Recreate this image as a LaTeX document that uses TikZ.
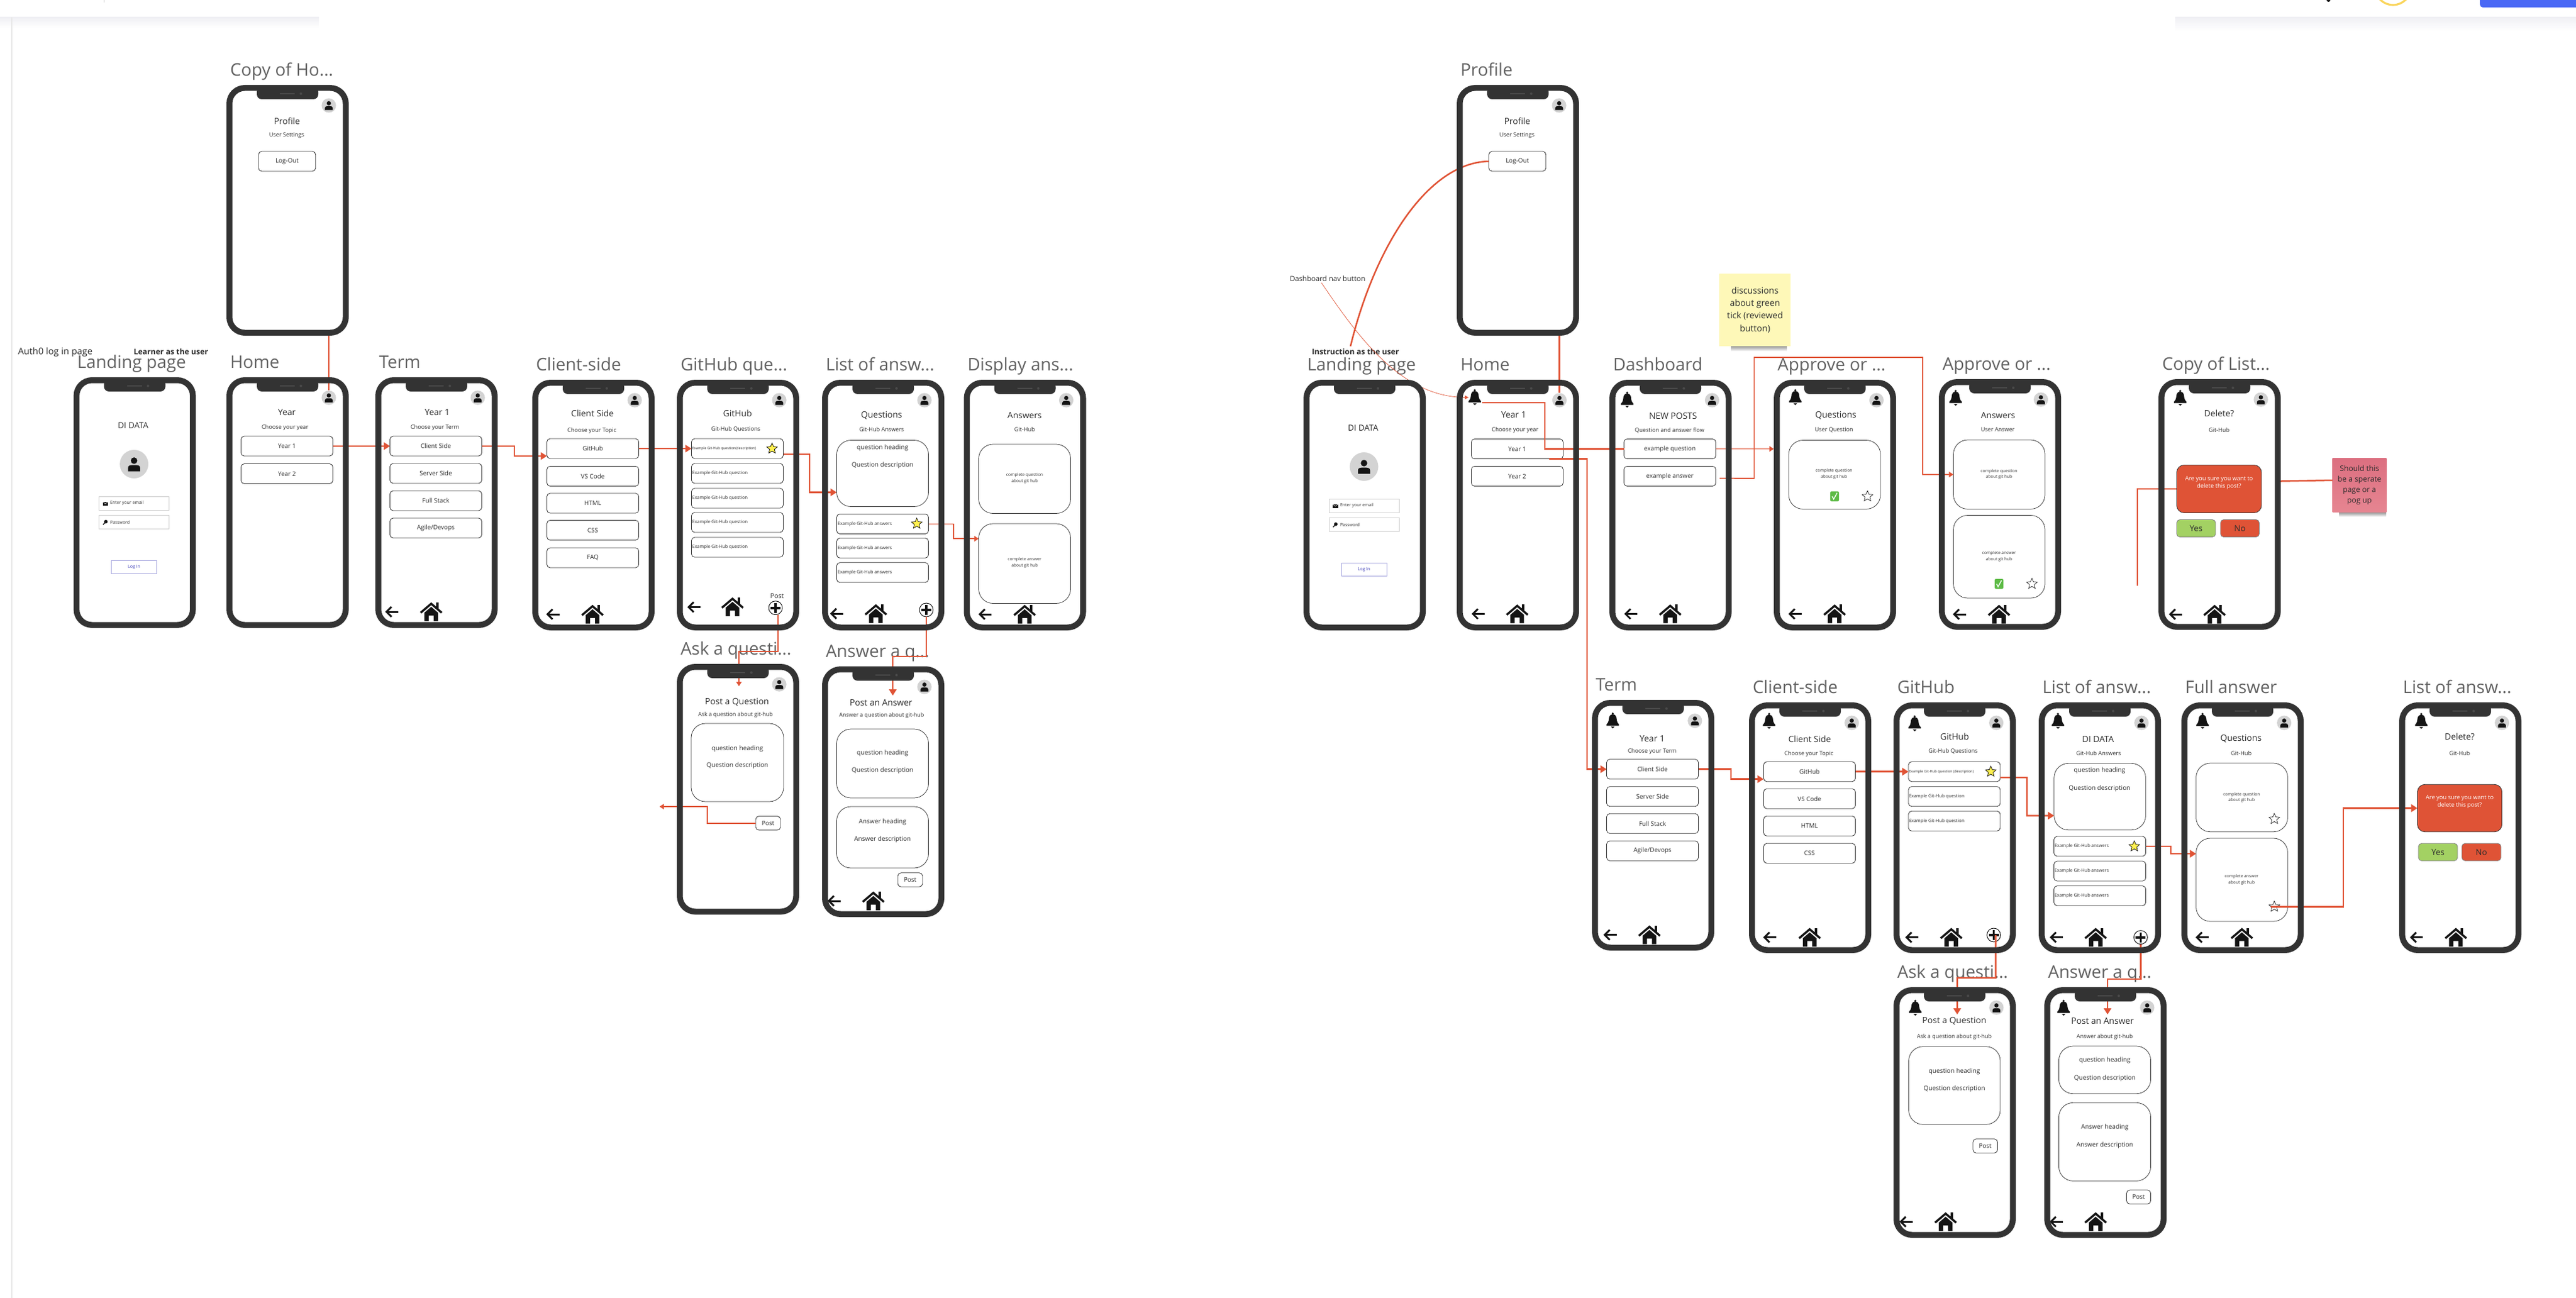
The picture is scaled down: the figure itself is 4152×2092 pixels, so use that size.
\documentclass[tikz,border=0pt]{standalone}
\usepackage{fontspec}
\setmainfont{Open Sans}
\usetikzlibrary{arrows.meta,shapes.geometric,calc}
\pgfdeclarelayer{front}\pgfsetlayers{main,front}
\definecolor{framegray}{HTML}{333333}
\definecolor{speaker}{HTML}{4A4A4A}
\definecolor{titlegray}{HTML}{626262}
\definecolor{avagray}{HTML}{D3D3D3}
\definecolor{linkred}{HTML}{E05335}
\definecolor{boxred}{HTML}{DF5336}
\definecolor{yesgreen}{HTML}{A3D163}
\definecolor{iconblk}{HTML}{141414}
\definecolor{inkgray}{HTML}{2C2C2C}
\definecolor{starfill}{HTML}{FFF04F}
\definecolor{tickgreen}{HTML}{5DBB46}
\definecolor{stickyy}{HTML}{FEF8B8}
\definecolor{pinka}{HTML}{DC6F80}
\definecolor{pinkb}{HTML}{E68591}
\definecolor{loginblue}{HTML}{3A3AB8}
\definecolor{loginedge}{HTML}{A6A6DE}
\definecolor{fieldedge}{HTML}{CFCFCF}
\definecolor{chromeblue}{HTML}{4A68F5}
\definecolor{chromeyellow}{HTML}{FAD55C}
\definecolor{chromeshadow}{HTML}{F0F0F4}
\definecolor{railgray}{HTML}{E8E8E8}
\newcount\nodeidx
\tikzset{
  plain/.style={inner sep=0pt,outer sep=0pt,text=inkgray},
  title/.style={inner sep=0pt,outer sep=0pt,text=titlegray,anchor=base west,font=\fontsize{14}{15}\selectfont},
  frame/.style={draw=framegray,line width=4.75pt,rounded corners=12.5pt,inner sep=0pt,outer sep=0pt,minimum width=93.75pt,minimum height=197.25pt},
  btn/.style={draw=framegray,line width=.42pt,rounded corners=2.6pt,inner sep=0pt,outer sep=0pt,fill=white,text=inkgray},
  card/.style={draw=framegray,line width=.38pt,rounded corners=11.5pt,inner sep=0pt,outer sep=0pt},
  ava/.style={circle,fill=avagray,minimum size=11.6pt,inner sep=0pt,outer sep=0pt},
  conn/.style={draw=linkred,line width=1.25pt,-{Triangle[length=5pt,width=6pt]}},
  connthin/.style={draw=linkred,line width=.8pt,-{Triangle[length=3.6pt,width=4.4pt]}},
  nolink/.style={draw=linkred,line width=1.25pt},
  nolinkthin/.style={draw=linkred,line width=.8pt},
  starshape/.style={star,star points=5,star point ratio=2.2,minimum size=9pt,inner sep=0pt,outer sep=0pt,draw=black,line width=.35pt},
}
\newcommand{\tx}[4]{\global\advance\nodeidx by 1 \node[plain,font=\fontsize{#3}{#3}\selectfont] (n\the\nodeidx) at (#1,#2) {#4};}
\newcommand{\txl}[4]{\global\advance\nodeidx by 1 \node[plain,anchor=west,font=\fontsize{#3}{#3}\selectfont] (n\the\nodeidx) at (#1,#2) {#4};}
\newcommand{\BTN}[3][]{\global\advance\nodeidx by 1 \node[btn,minimum width=74pt,minimum height=16pt,font=\fontsize{5}{6}\selectfont] (\ifx\relax#1\relax n\the\nodeidx\else#1\fi) at (97.5,#2) {#3};}
\newcommand{\EXB}[3][]{\global\advance\nodeidx by 1 \node[btn,minimum width=74pt,minimum height=16pt] (\ifx\relax#1\relax e\the\nodeidx\else#1\fi) at (#2,#3) {};}
\newcommand{\CARD}[6][card]{\pgfmathsetmacro\cw{(#5-#3)*.5}\pgfmathsetmacro\ch{(#6-#4)*.5}\node[#1,minimum width=\cw pt,minimum height=\ch pt] (#2) at ({(#3+#5)/2},{(#4+#6)/2}) {};}
\newcommand{\PERSONI}{\fill[iconblk] (0,-3.6) circle (3.4); \fill[iconblk] (-6.3,7.5) -- (-6.3,4) .. controls (-6.3,1.5) and (-4,1) .. (-2,1) -- (2,1) .. controls (4,1) and (6.3,1.5) .. (6.3,4) -- (6.3,7.5) -- cycle;}
\newcommand{\AVA}[3]{\node[ava] (#1) at (#2,#3) {}; \begin{scope}[shift={(#2,#3)}]\PERSONI\end{scope}}
\newcommand{\BELL}[2]{\begin{scope}[shift={(#1,#2)}]\fill[iconblk] (-10,6.5) .. controls (-6,3) and (-6.5,-2) .. (-6,-4.5) .. controls (-5,-8.5) and (-2,-10) .. (0,-10) .. controls (2,-10) and (5,-8.5) .. (6,-4.5) .. controls (6.5,-2) and (6,3) .. (10,6.5) -- (10,8.5) -- (-10,8.5) -- cycle; \fill[iconblk] (0,-11) circle (1.8); \fill[iconblk] (-3,10) -- (3,10) -- (0,13) -- cycle;\end{scope}}
\newcommand{\BACKA}[2]{\begin{scope}[shift={(#1,#2)}]\draw[iconblk,line width=1.5pt] (10,0) -- (-8.5,0); \draw[iconblk,line width=1.5pt] (-1,-8) -- (-9,0) -- (-1,8);\end{scope}}
\newcommand{\HOMEI}[2]{\begin{scope}[shift={(#1,#2)}]\fill[iconblk] (8,-15) rectangle (12,-5); \draw[iconblk,line width=1.7pt,line join=miter] (-17,1.5) -- (0,-13) -- (17,1.5); \fill[iconblk] (-11,1.5) -- (0,-8) -- (11,1.5) -- (11,15) -- (4,15) -- (4,6) -- (-4,6) -- (-4,15) -- (-11,15) -- cycle;\end{scope}}
\newcommand{\PLUSB}[3]{\node[circle,draw=black,line width=.45pt,fill=white,minimum size=11pt,inner sep=0pt,outer sep=0pt] (#1) at (#2,#3) {}; \begin{scope}[shift={(#2,#3)}]\draw[iconblk,line width=1.8pt] (-8,0) -- (8,0) (0,-8) -- (0,8);\end{scope}}
\newcommand{\STARY}[3][]{\global\advance\nodeidx by 1 \node[starshape,fill=starfill] (\ifx\relax#1\relax s\the\nodeidx\else#1\fi) at (#2,#3) {};}
\newcommand{\STARW}[3][]{\global\advance\nodeidx by 1 \node[starshape,fill=white,line width=.3pt] (\ifx\relax#1\relax s\the\nodeidx\else#1\fi) at (#2,#3) {};}
\newcommand{\CHECKG}[2]{\begin{scope}[shift={(#1,#2)}]\fill[tickgreen,rounded corners=1pt] (-7,-8) rectangle (7,8); \draw[white,line width=.7pt] (-4,0) -- (-1.5,4.5) -- (4,-5.5);\end{scope}}
\newcommand{\phone}[5]{%
  \global\advance\nodeidx by 1
  \node[title] (t\the\nodeidx) at (#2+6,#3-14.5) {#4};
  \begin{scope}[shift={(#2,#3)}]
    #5
    \begin{pgfonlayer}{front}
      \node[frame] (#1) at (98.5,202) {};
      \fill[framegray,rounded corners=4pt] (49,3) -- (49,23) -- (148,23) -- (148,3) -- cycle;
      \draw[speaker,line width=.9pt] (86,14) -- (110,14);
      \fill[speaker] (120,14) circle (2);
    \end{pgfonlayer}
  \end{scope}}
\newcommand{\LANDINGBODY}{%
  \tx{96}{78}{6.7}{DI DATA}
  \global\advance\nodeidx by 1
  \node[circle,fill=avagray,minimum size=23pt,inner sep=0pt] (a\the\nodeidx) at (97.5,140) {};
  \begin{scope}[shift={(97.5,140)},scale=1.55]\PERSONI\end{scope}
  \global\advance\nodeidx by 1
  \node[draw=fieldedge,line width=.5pt,minimum width=56.5pt,minimum height=11pt,inner sep=0pt] (f\the\nodeidx) at (97.5,203) {};
  \global\advance\nodeidx by 1
  \node[draw=fieldedge,line width=.5pt,minimum width=56.5pt,minimum height=11pt,inner sep=0pt] (f\the\nodeidx) at (97.5,233.5) {};
  \fill[iconblk] (47,200.5) rectangle (55.5,206.5);
  \draw[white,line width=.25pt] (47,200.8) -- (51.2,204) -- (55.5,200.8);
  \draw[iconblk,line width=.7pt] (47.5,237.5) -- (51.5,233.5);
  \fill[iconblk] (52,232.8) circle (2.9);
  \txl{59}{203}{3.5}{Enter your email}
  \txl{59}{233.5}{3.5}{Password}
  \global\advance\nodeidx by 1
  \node[draw=loginedge,line width=.5pt,minimum width=36.5pt,minimum height=10.2pt,inner sep=0pt,text=loginblue,font=\fontsize{3.5}{4}\selectfont] (l\the\nodeidx) at (97.5,306) {Log In};
}
\newcommand{\PROFILEBODY}[1]{%
  \AVA{#1av}{165}{33}
  \tx{97.5}{58}{7}{Profile}
  \tx{97}{81}{4.6}{User Settings}
  \node[btn,minimum width=46pt,minimum height=16pt,font=\fontsize{5}{6}\selectfont] (#1lo) at (97.7,123) {Log-Out};
}
\begin{document}
\begin{tikzpicture}[x=.5pt,y=-.5pt]
\useasboundingbox (0,0) rectangle (4152,2092);
\fill[white] (0,0) rectangle (4152,2092);
% screen chrome
\shade[top color=chromeshadow,bottom color=white] (0,28) rectangle (514,46);
\shade[top color=chromeshadow,bottom color=white] (3506,28) rectangle (4152,50);
\draw[railgray,line width=1pt] (18.5,28) -- (18.5,2092);
\draw[railgray,line width=1pt] (168,0) -- (168,4);
\begin{scope}
  \clip (0,0) rectangle (4152,2092);
  \fill[chromeblue,rounded corners=2.5pt] (3997,-20) rectangle (4170,12);
  \draw[chromeyellow,line width=1.6pt] (3857,-21) circle (29);
  \fill[iconblk] (3753,0) circle (3);
\end{scope}

% free labels
\node[plain,anchor=base west,font=\fontsize{7.4}{9}\selectfont] (authlab) at (29,571) {Auth0 log in page};
\node[plain,anchor=base west,font=\bfseries\fontsize{6.2}{8}\selectfont] (learnlab) at (215.5,571) {Learner as the user};
\node[plain,anchor=base west,font=\bfseries\fontsize{6.2}{8}\selectfont] (instrlab) at (2114.5,571.5) {Instruction as the user};
\node[plain,anchor=base west,font=\fontsize{5.8}{8}\selectfont] (navlab) at (2079,453.5) {Dashboard nav button};

% LEFT GROUP
\phone{lland}{118.6}{608}{Landing page}{\LANDINGBODY}
\phone{lprof}{365}{137}{Copy of Ho...}{\PROFILEBODY{lp}}
\phone{lhome}{365}{608}{Home}{%
  \AVA{lhav}{165}{33}
  \tx{97.4}{57}{7}{Year}
  \tx{94.5}{81}{4.6}{Choose your year}
  \BTN[lhy1]{111}{Year 1}
  \BTN[lhy2]{155.5}{Year 2}
}
\phone{lterm}{605}{608}{Term}{%
  \AVA{ltav}{165}{33}
  \tx{99.7}{57}{7}{Year 1}
  \tx{96}{81}{4.6}{Choose your Term}
  \BTN[ltb1]{111}{Client Side}
  \BTN{155}{Server Side}
  \BTN{199}{Full Stack}
  \BTN{243}{Agile/Devops}
  \BACKA{27}{378}
  \HOMEI{90}{378}
}
\phone{lclient}{858}{612}{Client-side}{%
  \AVA{lcav}{165}{33}
  \tx{97}{54}{7}{Client Side}
  \tx{96}{82}{4.6}{Choose your Topic}
  \BTN[lcb1]{111}{GitHub}
  \BTN{155.5}{VS Code}
  \BTN{199}{HTML}
  \BTN{242.5}{CSS}
  \BTN{287}{FAQ}
  \BACKA{33.5}{378}
  \HOMEI{97}{378}
}
\phone{lgit}{1091}{612}{GitHub que...}{%
  \AVA{lgav}{165}{33}
  \tx{97.8}{54}{7}{GitHub}
  \tx{95}{80}{4.6}{Git-Hub Questions}
  \EXB[lgq1]{97.5}{111}
  \txl{24.8}{111}{2.85}{Example Git-Hub question(description)}
  \STARY{153.4}{111}
  \EXB{97.5}{151}
  \txl{24.8}{151}{3.65}{Example Git-Hub question}
  \EXB{97.5}{191}
  \txl{24.8}{191}{3.65}{Example Git-Hub question}
  \EXB{97.5}{230}
  \txl{24.8}{230}{3.65}{Example Git-Hub question}
  \EXB{97.5}{270}
  \txl{24.8}{270}{3.65}{Example Git-Hub question}
  \tx{161.5}{349}{5.4}{Post}
  \PLUSB{lgplus}{159}{367.7}
  \BACKA{28}{366.5}
  \HOMEI{89.6}{366}
}
\phone{llist}{1325}{612}{List of answ...}{%
  \AVA{llav}{165}{33}
  \tx{96}{58}{7}{Questions}
  \tx{96}{80}{4.6}{Git-Hub Answers}
  \CARD{llcard}{23.5}{97.5}{171.5}{204.5}
  \tx{97.5}{109.5}{5.1}{question heading}
  \tx{97.5}{137.5}{5.1}{Question description}
  \EXB[lla1]{97.5}{232.5}
  \txl{25}{232.5}{3.65}{Example Git-Hub answers}
  \STARY{152.6}{232}
  \EXB{97.5}{271.3}
  \txl{25}{271.3}{3.65}{Example Git-Hub answers}
  \EXB{97.5}{310.7}
  \txl{25}{310.7}{3.65}{Example Git-Hub answers}
  \BACKA{24}{377}
  \HOMEI{86.7}{377}
  \PLUSB{llplus}{168}{371}
}
\phone{ldisp}{1553.5}{612}{Display ans...}{%
  \AVA{ldav}{165}{33}
  \tx{98}{58}{7}{Answers}
  \tx{98}{80}{4.6}{Git-Hub}
  \CARD{ldc1}{24}{104}{172}{215.5}
  \tx{98}{154}{3.4}{complete question}
  \tx{98}{163.5}{3.4}{about git hub}
  \CARD{ldc2}{24}{232}{172}{360.5}
  \tx{98}{290}{3.4}{complete answer}
  \tx{98}{300}{3.4}{about git hub}
  \BACKA{34.8}{378}
  \HOMEI{98}{378}
}
\phone{lask}{1091}{1070}{Ask a questi...}{%
  \AVA{lqav}{165}{33}
  \tx{97}{62}{7}{Post a Question}
  \tx{94.5}{82.4}{4.5}{Ask a question about git-hub}
  \CARD{lqcard}{23}{96}{172}{222}
  \tx{97.5}{136.4}{5.1}{question heading}
  \tx{97.5}{164}{5.1}{Question description}
  \node[btn,minimum width=20pt,minimum height=11.2pt,font=\fontsize{5}{6}\selectfont] (lqpost) at (147,256.7) {Post};
}
\phone{lans}{1325}{1074}{Answer a q...}{%
  \AVA{lrav}{165}{33}
  \tx{95}{59}{7}{Post an Answer}
  \tx{96}{79.6}{4.5}{Answer a question about git-hub}
  \CARD{lrc1}{23.5}{101}{171.5}{212}
  \tx{97.5}{140}{5.1}{question heading}
  \tx{97.5}{168}{5.1}{Question description}
  \CARD{lrc2}{23.5}{226}{171.5}{325}
  \tx{97.5}{250.5}{5.1}{Answer heading}
  \tx{97.5}{279}{5.1}{Answer description}
  \node[btn,minimum width=20pt,minimum height=11.2pt,font=\fontsize{5}{6}\selectfont] (lrpost) at (142,344) {Post};
  \BACKA{20}{378}
  \HOMEI{82.6}{378}
}

% RIGHT GROUP
\phone{rland}{2101}{612}{Landing page}{\LANDINGBODY}
\phone{rprof}{2348}{137}{Profile}{\PROFILEBODY{rp}}
\phone{rhome}{2348}{612}{Home}{%
  \BELL{29}{28}
  \coordinate (rhbellW) at (19,28.5);
  \coordinate (rhbellE) at (41,37);
  \AVA{rhav}{165.5}{33}
  \tx{91.7}{56.6}{7}{Year 1}
  \tx{94}{81.5}{4.6}{Choose your year}
  \BTN[rhy1]{111.5}{Year 1}
  \BTN[rhy2]{155.5}{Year 2}
  \BACKA{35}{377.4}
  \HOMEI{97.4}{377.4}
}
\phone{rdash}{2594}{612}{Dashboard}{%
  \BELL{28.7}{32}
  \AVA{rdav}{165.5}{33}
  \tx{102.7}{58}{7}{NEW POSTS}
  \tx{97}{81.5}{4.6}{Question and answer flow}
  \BTN[rdq]{111.5}{example question}
  \BTN[rda]{155.5}{example answer}
  \BACKA{35}{377.4}
  \HOMEI{98}{377.4}
}
\phone{rap1}{2859}{612}{Approve or ...}{%
  \BELL{34.7}{28}
  \AVA{ra1av}{165.5}{33}
  \tx{100}{58}{7}{Questions}
  \tx{97}{81}{4.6}{User Question}
  \CARD{ra1c}{24}{97.5}{172}{208.5}
  \tx{97}{147}{3.4}{complete question}
  \tx{97}{156.7}{3.4}{about git hub}
  \CHECKG{98}{188}
  \STARW{151}{188}
  \BACKA{34.7}{377.4}
  \HOMEI{98}{377.4}
}
\phone{rap2}{3125}{611}{Approve or ...}{%
  \BELL{27}{30}
  \AVA{ra2av}{164.5}{33}
  \tx{95.4}{59}{7}{Answers}
  \tx{95}{81.7}{4.6}{User Answer}
  \CARD{ra2c1}{23.5}{98}{171}{209.5}
  \tx{97}{149}{3.4}{complete question}
  \tx{97}{157.6}{3.4}{about git hub}
  \CARD{ra2c2}{23.5}{219.5}{171}{353}
  \tx{97}{280.7}{3.4}{complete answer}
  \tx{97}{290.7}{3.4}{about git hub}
  \CHECKG{97}{330}
  \STARW{150}{330}
  \BACKA{33.7}{379}
  \HOMEI{97}{379}
}
\phone{rcopy}{3479}{611}{Copy of List...}{%
  \BELL{35}{30}
  \AVA{rcav}{165}{33}
  \tx{97.8}{55}{7}{Delete?}
  \tx{97.8}{81.7}{4.6}{Git-Hub}
  \node[btn,fill=boxred,minimum width=68.3pt,minimum height=38.5pt,rounded corners=6pt] (rcbox) at (97.7,177) {};
  \node[plain,text=white,align=center,font=\fontsize{4.7}{6.3}\selectfont] (rcmsg) at (97.7,167.3) {Are you sure you want to\\delete this post?};
  \node[btn,fill=yesgreen,draw=gray,minimum width=31.3pt,minimum height=14pt,font=\fontsize{6.7}{8}\selectfont] (rcyes) at (60.7,240.5) {Yes};
  \node[btn,fill=boxred,draw=gray,minimum width=31.2pt,minimum height=14pt,font=\fontsize{6.7}{8}\selectfont] (rcno) at (131.2,240.5) {No};
  \BACKA{28}{379}
  \HOMEI{90.4}{379}
}
\phone{rterm}{2566}{1128}{Term}{%
  \BELL{33.4}{33}
  \AVA{rtav}{165.8}{33.7}
  \tx{97}{63}{7}{Year 1}
  \tx{97}{83}{4.6}{Choose your Term}
  \BTN[rtb1]{111.7}{Client Side}
  \BTN{155.7}{Server Side}
  \BTN{199.3}{Full Stack}
  \BTN{243.3}{Agile/Devops}
  \BACKA{29.5}{378.7}
  \HOMEI{92.5}{378.7}
}
\phone{rclient}{2819}{1132}{Client-side}{%
  \BELL{32.4}{29.7}
  \AVA{rcsav}{165.6}{33}
  \tx{97.8}{59}{7}{Client Side}
  \tx{96.5}{83}{4.6}{Choose your Topic}
  \BTN[rcb1]{111.7}{GitHub}
  \BTN{155.3}{VS Code}
  \BTN{199.3}{HTML}
  \BTN{243.3}{CSS}
  \BACKA{34}{378.7}
  \HOMEI{97.8}{378.7}
}
\phone{rgit}{3052}{1132}{GitHub}{%
  \BELL{34}{33.7}
  \AVA{rgav}{165.6}{33}
  \tx{98.5}{55}{7}{GitHub}
  \tx{96}{79}{4.6}{Git-Hub Questions}
  \EXB[rgq1]{98}{111.7}
  \txl{25}{111.7}{2.85}{Example Git-Hub question (description)}
  \STARY{156.7}{111.7}
  \EXB{98}{151.7}
  \txl{25}{151.7}{3.65}{Example Git-Hub question}
  \EXB{98}{191.3}
  \txl{25}{191.3}{3.65}{Example Git-Hub question}
  \BACKA{30}{378.7}
  \HOMEI{93}{378.7}
  \PLUSB{rgplus}{161.5}{375}
}
\phone{rlist}{3286}{1132}{List of answ...}{%
  \BELL{31}{29.7}
  \AVA{rlav}{165.6}{33}
  \tx{95.7}{59}{7}{DI DATA}
  \tx{96.5}{82}{4.6}{Git-Hub Answers}
  \CARD{rlcard}{24.8}{98.3}{172.3}{205.7}
  \tx{98}{110}{5.1}{question heading}
  \tx{98}{138.7}{5.1}{Question description}
  \EXB[rla1]{98.5}{232}
  \txl{25.5}{232}{3.65}{Example Git-Hub answers}
  \STARY{154}{232}
  \EXB{98.5}{272}
  \txl{25.5}{272}{3.65}{Example Git-Hub answers}
  \EXB{98.5}{311.7}
  \txl{25.5}{311.7}{3.65}{Example Git-Hub answers}
  \BACKA{28.8}{378.7}
  \HOMEI{91.8}{378.7}
  \PLUSB{rlplus}{164.3}{378.7}
}
\phone{rfull}{3516}{1132}{Full answer}{%
  \BELL{34}{29.7}
  \AVA{rfav}{165.6}{33}
  \tx{96}{59}{7}{Questions}
  \tx{96.5}{82}{4.6}{Git-Hub}
  \CARD{rfc1}{23.6}{98}{171.3}{208.7}
  \tx{97}{148.7}{3.4}{complete question}
  \tx{97}{157.7}{3.4}{about git hub}
  \STARW{149.7}{188}
  \CARD{rfc2}{23.6}{219}{171.3}{353}
  \tx{97}{280.7}{3.4}{complete answer}
  \tx{97}{290.7}{3.4}{about git hub}
  \STARW[rfstar]{149.7}{329.3}
  \BACKA{34}{378.7}
  \HOMEI{97.4}{378.7}
}
\phone{rdel}{3867}{1132}{List of answ...}{%
  \BELL{35.6}{29.7}
  \AVA{rdlav}{165.6}{33}
  \tx{97.5}{55}{7}{Delete?}
  \tx{97.5}{82}{4.6}{Git-Hub}
  \node[btn,fill=boxred,minimum width=68.1pt,minimum height=38.2pt,rounded corners=6pt] (rdbox) at (97.5,170.5) {};
  \node[plain,text=white,align=center,font=\fontsize{4.7}{6.3}\selectfont] (rdmsg) at (97.5,160.3) {Are you sure you want to\\delete this post?};
  \node[btn,fill=yesgreen,draw=gray,minimum width=31.5pt,minimum height=14pt,font=\fontsize{6.7}{8}\selectfont] (rdyes) at (62.5,241.3) {Yes};
  \node[btn,fill=boxred,draw=gray,minimum width=31.5pt,minimum height=14pt,font=\fontsize{6.7}{8}\selectfont] (rdno) at (132.5,241.3) {No};
  \BACKA{28.4}{378.7}
  \HOMEI{91.3}{378.7}
}
\phone{rask}{3052}{1591}{Ask a questi...}{%
  \BELL{35}{33}
  \AVA{rqav}{165.8}{33}
  \tx{98}{55}{7}{Post a Question}
  \tx{98}{79.7}{4.5}{Ask a question about git-hub}
  \CARD{rqcard}{24.5}{95.7}{172}{221.3}
  \tx{98}{136.3}{5.1}{question heading}
  \tx{98}{164.3}{5.1}{Question description}
  \node[btn,minimum width=19.8pt,minimum height=11.3pt,font=\fontsize{5}{6}\selectfont] (rqpost) at (147.8,256) {Post};
  \BACKA{20.7}{378}
  \HOMEI{83.9}{378}
}
\phone{rans}{3295}{1591}{Answer a q...}{%
  \BELL{31}{33}
  \AVA{rrav}{165.8}{33}
  \tx{93.8}{55}{7}{Post an Answer}
  \tx{97.3}{79.7}{4.5}{Answer about git-hub}
  \CARD{rrc1}{23.4}{95}{171.5}{171.7}
  \tx{97.5}{118.3}{5.1}{question heading}
  \tx{97.5}{147.3}{5.1}{Question description}
  \CARD{rrc2}{23.4}{186.3}{171.5}{312.3}
  \tx{97.5}{226.3}{5.1}{Answer heading}
  \tx{97.5}{255.3}{5.1}{Answer description}
  \node[btn,minimum width=19.5pt,minimum height=11.2pt,font=\fontsize{5}{6}\selectfont] (rrpost) at (152,338.2) {Post};
  \BACKA{19.6}{378}
  \HOMEI{82.7}{378}
}

% sticky notes
\shade[top color=black!45,bottom color=white] (2790,557) rectangle (2880,566);
\node[inner sep=0pt,outer sep=0pt,fill=stickyy,minimum width=57.3pt,minimum height=58.5pt,align=center,text=inkgray,font=\fontsize{7.1}{10.2}\selectfont] (yellownote) at (2828.7,499.5) {discussions\\about green\\tick (reviewed\\button)};
\shade[top color=black!45,bottom color=white] (3770,825) rectangle (3846,833);
\node[inner sep=0pt,outer sep=0pt,top color=pinka,bottom color=pinkb,minimum width=43.4pt,minimum height=43.8pt,align=center,text=inkgray,font=\fontsize{6.1}{8.5}\selectfont] (pinknote) at (3803,782) {Should this\\be a sperate\\page or a\\pog up};

% LEFT connectors
\draw[nolink] (lprof.south -| lhav) -- (lhav.north);
\draw[conn] (lhy1.east) -- (ltb1.west);
\draw[conn] (ltb1.east) -- (829,719) |- ([yshift=-6pt]lcb1.west);
\draw[conn] (lcb1.east) -- (lgq1.west);
\draw[conn] ([yshift=-4.5pt]lgq1.east) -- (1305,732) |- ([yshift=-15.25pt]llcard.west);
\draw[connthin] (lla1.east) -- (1536.7,844.5) |- ([yshift=20pt]ldc2.west);
\coordinate (lqend) at (1191,1106);
\draw[connthin] ([xshift=2pt]lgplus.south) -- (1254,1050) -| (lqend);
\coordinate (lrend) at (1439,1121);
\draw[conn] (llplus.south) -- (1493,1058) -| (lrend);
\coordinate (lpostend) at (1063,1300);
\draw[connthin] (lqpost.west) -| (1140,1300) -- (lpostend);

% RIGHT connectors
\draw[nolink] (rprof.south -| rhav) -- (rhav.north);
\draw[nolink] (rhbellE) -| (2490,723.5) -- (rdq.west);
\draw[connthin] (rdq.east) -- ([xshift=-2.4pt]rdq.east -| rap1.west);
\draw[conn] ([xshift=25.5pt]rhy1.south) -- (2558,739.5) |- (rtb1.west);
\draw[connthin] ([shift={(3pt,-1.7pt)}]rda.east) -- (2827.4,771) |- (3099,576) |- (ra2c1.west);
\draw[conn] (rtb1.east) -- (2790,1239.7) |- ([yshift=-6pt]rcb1.west);
\draw[conn] (rcb1.east) -- (rgq1.west);
\draw[conn] ([yshift=-4.7pt]rgq1.east) -- (3267,1253) |- ([yshift=-15.3pt]rlcard.west);
\draw[conn] (rla1.east) -- (3499,1364) |- ([yshift=21pt]rfc2.west);
\draw[conn] (rfstar.west) -- (3777,1461.3) |- (rdbox.west);
\coordinate (rqend) at (3154.6,1635);
\draw[conn] ([xshift=1.5pt]rgplus.center) -- (3216.6,1576) -| (rqend);
\coordinate (rrend) at (3396.9,1635);
\draw[conn] (rlplus.south) -- (3450.3,1578) -| (rrend);
\coordinate (rcfree) at (3445,944);
\draw[nolinkthin] (rcbox.west) -| (rcfree);
\draw[nolink] ([yshift=4pt]pinknote.west) -- ([yshift=3.2pt]pinknote.west -| rcopy.east);
\draw[nolink] (rplo.west) .. controls (2300,262) and (2215,400) .. ([xshift=-4pt,yshift=2pt]instrlab.north);
\draw[draw=linkred,line width=.35pt,-{Triangle[length=3pt,width=3pt]}] ([xshift=-5pt,yshift=-1pt]navlab.south) .. controls (2190,545) and (2260,640) .. (rhbellW);
\end{tikzpicture}
\end{document}
